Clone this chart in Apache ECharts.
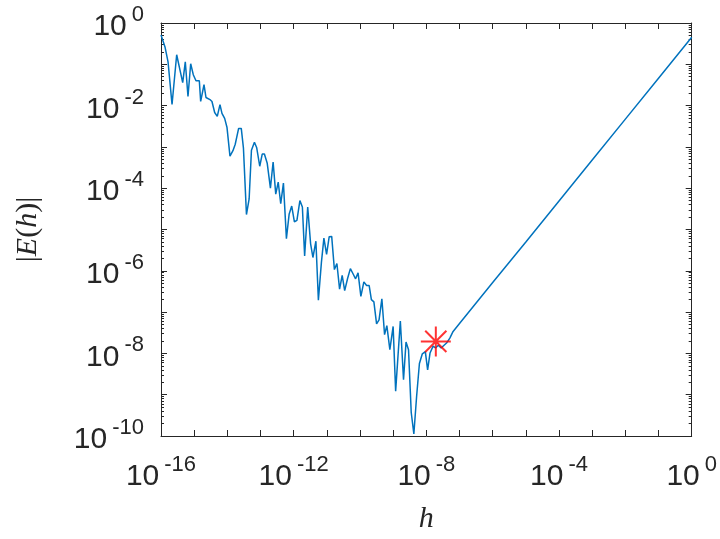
<!DOCTYPE html>
<html>
<head>
<meta charset="utf-8">
<script src="https://cdn.jsdelivr.net/npm/echarts@6/dist/echarts.min.js"></script>
<style>
html,body{margin:0;padding:0;background:#fff;}
#chart{width:720px;height:539px;}
</style>
</head>
<body>
<div id="chart"></div>
<script>
// step size h
const hValues = [
  1.0e-16, 1.32e-16, 1.63e-16, 2.15e-16, 2.97e-16, 4.51e-16, 5.40e-16, 6.51e-16, 7.85e-16, 9.4e-16,
  1.134e-15, 1.43e-15, 1.57e-15, 1.98e-15, 2.27e-15, 2.99e-15, 3.44e-15, 4.15e-15, 4.97e-15, 6.0e-15,
  6.89e-15, 8.3e-15, 9.74e-15, 1.20e-14, 1.476e-14, 1.73e-14, 2.19e-14, 2.63e-14, 3.06e-14, 3.77e-14,
  4.54e-14, 5.33e-14, 6.56e-14, 7.69e-14, 9.48e-14, 1.127e-13, 1.31e-13, 1.595e-13, 1.99e-13, 2.40e-13,
  2.88e-13, 3.42e-13, 4.07e-13, 4.91e-13, 6.04e-13, 7.29e-13, 8.73e-13, 1.052e-12, 1.252e-12, 1.54e-12,
  1.83e-12, 2.14e-12, 2.65e-12, 3.24e-12, 3.80e-12, 4.68e-12, 5.56e-12, 6.85e-12, 8.15e-12, 9.82e-12,
  1.178e-11, 1.40e-11, 1.69e-11, 2.01e-11, 2.42e-11, 2.90e-11, 3.45e-11, 4.22e-11, 5.12e-11, 6.10e-11,
  7.35e-11, 8.74e-11, 1.062e-10, 1.306e-10, 1.58e-10, 1.89e-10, 2.20e-10, 2.62e-10, 3.16e-10, 3.75e-10,
  4.56e-10, 5.50e-10, 6.44e-10, 7.94e-10, 9.97e-10, 1.186e-9, 1.644e-9, 2.05e-9, 2.44e-9, 2.90e-9,
  3.50e-9, 4.20e-9, 5.09e-9, 6.18e-9, 7.57e-9, 9.31e-9, 1.093e-8, 1.29e-8, 1.60e-8, 1.90e-8,
  2.30e-8, 2.79e-8, 3.36e-8, 4.06e-8, 5.10e-8, 6.41e-8,
  1e-7, 1e-6, 1e-5, 1e-4, 1e-3, 1e-2, 1e-1, 1e0
];
// error |E(h)|
const errValues = [
  5.1e-1, 2.64e-1, 1.15e-1, 1.06e-2, 1.70e-1, 3.6e-2, 1.15e-1, 1.66e-2, 1.03e-1, 5.6e-2,
  4.0e-2, 4.0e-2, 1.26e-2, 3.2e-2, 1.57e-2, 1.40e-2, 1.26e-2, 6.8e-3, 5.5e-3, 1.06e-2,
  6.5e-3, 4.9e-3, 3.0e-3, 6.0e-4, 8.1e-4, 1.16e-3, 2.8e-3, 2.8e-3, 9.3e-4, 2.3e-5,
  5.5e-5, 8.3e-4, 1.29e-3, 9.5e-4, 3.4e-4, 6.7e-4, 6.7e-4, 4.0e-4, 1.0e-4, 4.3e-4,
  7.2e-5, 1.41e-4, 4.2e-5, 1.33e-4, 6.0e-6, 2.33e-5, 3.7e-5, 1.54e-5, 1.67e-5, 5.0e-5,
  3.5e-5, 2.3e-6, 3.5e-5, 4.5e-6, 2.1e-6, 5.2e-6, 1.93e-7, 1.58e-6, 6.2e-6, 2.5e-6,
  6.7e-6, 6.8e-6, 1.07e-6, 1.5e-6, 3.6e-7, 7.7e-7, 3.3e-7, 6.5e-7, 1.13e-6, 8.6e-7,
  6.4e-7, 8.9e-7, 2.4e-7, 5.4e-7, 4.4e-7, 4.4e-7, 2.0e-7, 1.77e-7, 5.2e-8, 6.5e-8,
  2.1e-7, 2.85e-8, 4.7e-8, 1.24e-8, 4.5e-8, 1.22e-9, 6.1e-8, 2.3e-9, 1.88e-8, 1.23e-8,
  3.7e-10, 1.12e-10, 9.2e-10, 5.7e-9, 9.8e-9, 1.10e-8, 4.0e-9, 1.02e-8, 1.5e-8, 1.35e-8,
  1.57e-8, 1.35e-8, 1.55e-8, 1.78e-8, 2.35e-8, 3.4e-8,
  5.3e-8, 5.2e-7, 5.0e-6, 4.9e-5, 4.8e-4, 4.7e-3, 4.6e-2, 4.5e-1
];
// optimal step marker
const optH = [1.93e-8];
const optErr = [1.95e-8];

// axis ticks and labels
const xTicks = [1e-16,1e-15,1e-14,1e-13,1e-12,1e-11,1e-10,1e-9,1e-8,1e-7,1e-6,1e-5,1e-4,1e-3,1e-2,1e-1,1e0];
const xLabels = [1e-16,1e-12,1e-8,1e-4,1e0];
const yTicks = [1e-10,1e-9,1e-8,1e-7,1e-6,1e-5,1e-4,1e-3,1e-2,1e-1,1e0];
const yLabels = [1e-10,1e-8,1e-6,1e-4,1e-2,1e0];
const yMinor = [];
for (let n = -10; n < 0; n++) {
  for (let k = 2; k <= 9; k++) yMinor.push(parseFloat(k + 'e' + n));
}

const AX = '#262626';
const labelFmt = v => '{b|10}{s|' + Math.round(Math.log10(v)) + '}';
const rich = {
  b: {fontSize: 30, fontFamily: 'Liberation Sans', color: AX, lineHeight: 38, verticalAlign: 'bottom'},
  s: {fontSize: 22, fontFamily: 'Liberation Sans', color: AX, lineHeight: 22, verticalAlign: 'top', padding: [0,0,0,5]}
};

function logAxis(extra) {
  return Object.assign({
    type: 'log', logBase: 10,
    axisLine: {show: true, onZero: false, lineStyle: {color: AX, width: 1}},
    splitLine: {show: false},
    minorTick: {show: false},
    axisLabel: {show: false},
    axisTick: {show: true, inside: true, length: 6, lineStyle: {color: AX, width: 1}}
  }, extra);
}

const chart = echarts.init(document.getElementById('chart'));
chart.setOption({
  animation: false,
  backgroundColor: '#ffffff',
  grid: {left: 161, right: 28, top: 23, bottom: 101, containLabel: false},
  xAxis: [
    logAxis({
      min: 1e-16, max: 1, position: 'bottom',
      axisTick: {show: true, inside: true, length: 6, customValues: xTicks, lineStyle: {color: AX, width: 1}},
      axisLabel: {show: true, customValues: xLabels, margin: 18, formatter: labelFmt, rich: rich},
      name: 'h', nameLocation: 'middle', nameGap: 68,
      nameTextStyle: {fontFamily: 'Liberation Serif', fontStyle: 'italic', fontSize: 30, color: AX}
    }),
    logAxis({
      min: 1e-16, max: 1, position: 'top',
      axisTick: {show: true, inside: true, length: 6, customValues: xTicks, lineStyle: {color: AX, width: 1}}
    })
  ],
  yAxis: [
    logAxis({
      min: 1e-10, max: 1, position: 'left',
      axisTick: {show: true, inside: true, length: 6, customValues: yTicks, lineStyle: {color: AX, width: 1}},
      axisLabel: {show: true, customValues: yLabels, margin: 17, formatter: labelFmt, rich: rich},
      name: '{n||}{i|E}{n|(}{i|h}{n|)}{n||}', nameLocation: 'middle', nameGap: 118, nameRotate: 90,
      nameTextStyle: {
        color: AX,
        rich: {
          n: {fontFamily: 'Liberation Serif', fontSize: 30, color: AX},
          i: {fontFamily: 'Liberation Serif', fontStyle: 'italic', fontSize: 30, color: AX}
        }
      }
    }),
    logAxis({
      min: 1e-10, max: 1, position: 'left',
      axisLine: {show: false},
      axisTick: {show: true, inside: true, length: 3, customValues: yMinor, lineStyle: {color: AX, width: 1}}
    }),
    logAxis({
      min: 1e-10, max: 1, position: 'right',
      axisTick: {show: true, inside: true, length: 6, customValues: yTicks, lineStyle: {color: AX, width: 1}}
    }),
    logAxis({
      min: 1e-10, max: 1, position: 'right',
      axisLine: {show: false},
      axisTick: {show: true, inside: true, length: 3, customValues: yMinor, lineStyle: {color: AX, width: 1}}
    })
  ],
  series: [
    {
      type: 'line', xAxisIndex: 0, yAxisIndex: 0,
      data: hValues.map((h, i) => [h, errValues[i]]),
      showSymbol: false, symbol: 'none',
      lineStyle: {color: '#0072BD', width: 1.5},
      z: 2
    },
    {
      type: 'scatter', xAxisIndex: 0, yAxisIndex: 0,
      data: optH.map((h, i) => [h, optErr[i]]),
      symbol: 'path://M15,0 L15,30 M0,15 L30,15 M4.4,4.4 L25.6,25.6 M4.4,25.6 L25.6,4.4',
      symbolSize: 30,
      itemStyle: {color: 'rgba(0,0,0,0)', borderColor: '#FF0000', borderWidth: 2},
      z: 3
    }
  ]
});
</script>
</body>
</html>
